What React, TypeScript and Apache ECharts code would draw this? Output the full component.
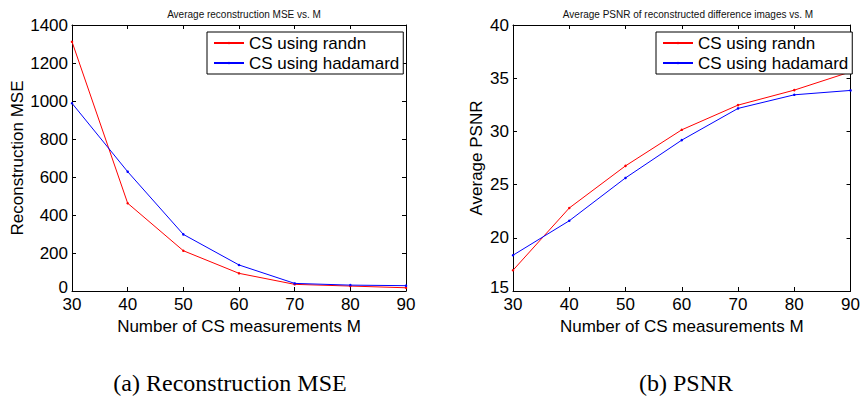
import React, { useEffect, useRef } from "react";
import * as echarts from "echarts";

const mValues = [30, 40, 50, 60, 70, 80, 90];
const mseRandn = [1312, 462, 212, 93, 35, 26, 17];
const mseHadamard = [988, 628, 298, 137, 40, 31, 28];
const psnrRandn = [16.95, 22.8, 26.76, 30.15, 32.47, 33.88, 35.6];
const psnrHadamard = [18.36, 21.6, 25.63, 29.18, 32.16, 33.44, 33.85];

const seriesNames = ["CS using randn", "CS using hadamard"];
const titles = ["Average reconstruction MSE vs. M", "Average PSNR of reconstructed difference images vs. M"];
const yNames = ["Reconstruction MSE", "Average PSNR"];
const xName = "Number of CS measurements M";
const captions = ["(a) Reconstruction MSE", "(b) PSNR"];

const SANS = "'Liberation Sans', Arial, Helvetica, sans-serif";
const SERIF = "'Liberation Serif', 'Times New Roman', serif";

const pairs = (xs: number[], ys: number[]) => xs.map((x, i) => [x, ys[i]]);

export default function App() {
  const ref = useRef<HTMLDivElement>(null);
  useEffect(() => {
    if (!ref.current) return;
    const chart = echarts.init(ref.current, undefined, { renderer: "svg" });

    const grids = [
      { left: 72, right: 457, top: 25, bottom: 110 },
      { left: 513, right: 9, top: 25, bottom: 110 },
    ];
    const yRanges = [
      { min: 0, max: 1400, interval: 200 },
      { min: 15, max: 40, interval: 5 },
    ];

    const axisLine = { show: true, onZero: false, lineStyle: { color: "#000", width: 1 } };
    const tick = { show: true, inside: true, length: 4, lineStyle: { color: "#000", width: 1 } };
    const label = { color: "#000", fontSize: 17, fontFamily: SANS };
    const nameStyle = { color: "#000", fontSize: 17, fontFamily: SANS };

    const xAxis: any[] = [];
    const yAxis: any[] = [];
    [0, 1].forEach((g) => {
      xAxis.push({
        type: "value", gridIndex: g, position: "bottom", min: 30, max: 90, interval: 10,
        axisLine, axisTick: tick, splitLine: { show: false },
        axisLabel: { ...label, lineHeight: 13, margin: 7 },
        name: xName, nameLocation: "middle", nameGap: 15,
        nameTextStyle: nameStyle,
      });
      xAxis.push({
        type: "value", gridIndex: g, position: "top", min: 30, max: 90, interval: 10,
        axisLine, axisTick: tick, splitLine: { show: false }, axisLabel: { show: false },
      });
      yAxis.push({
        type: "value", gridIndex: g, position: "left", ...yRanges[g],
        axisLine, axisTick: tick, splitLine: { show: false },
        axisLabel: {
          ...label, lineHeight: 12, margin: 4,
          formatter: (v: number) => (v === yRanges[g].min ? `{low|${v}}` : String(v)),
          rich: { low: { ...label, lineHeight: 12, padding: [0, 0, 8, 0] } },
        },
        name: yNames[g], nameLocation: "middle", nameGap: g === 0 ? 46 : 28,
        nameTextStyle: nameStyle,
      });
      yAxis.push({
        type: "value", gridIndex: g, position: "right", ...yRanges[g],
        axisLine, axisTick: tick, splitLine: { show: false }, axisLabel: { show: false },
      });
    });

    const mk = (name: string, color: string, data: number[][], g: number) => ({
      type: "line", name, data, xAxisIndex: g * 2, yAxisIndex: g * 2,
      symbol: "circle", symbolSize: 2.5, showSymbol: true,
      itemStyle: { color }, lineStyle: { color, width: 1 },
    });

    const legendBase = {
      orient: "vertical", top: 32, padding: [1, 4, 1, 6], itemGap: 0,
      itemWidth: 30, itemHeight: 3, borderColor: "#000", borderWidth: 1,
      backgroundColor: "#fff", selectedMode: false, borderRadius: 0,
      textStyle: { color: "#000", fontSize: 17, fontFamily: SANS, lineHeight: 20 },
      data: seriesNames,
    };

    chart.setOption({
      animation: false,
      backgroundColor: "#fff",
      title: [
        { text: titles[0], left: 239, top: 4, textAlign: "center", textStyle: { fontSize: 10, fontWeight: "normal", color: "#111", fontFamily: SANS } },
        { text: titles[1], left: 683, top: 4, textAlign: "center", textStyle: { fontSize: 10, fontWeight: "normal", color: "#111", fontFamily: SANS } },
      ],
      grid: grids,
      xAxis,
      yAxis,
      legend: [
        { ...legendBase, left: 207 },
        { ...legendBase, left: 656 },
      ],
      series: [
        mk(seriesNames[0], "#ff0000", pairs(mValues, mseRandn), 0),
        mk(seriesNames[1], "#0000ff", pairs(mValues, mseHadamard), 0),
        mk(seriesNames[0], "#ff0000", pairs(mValues, psnrRandn), 1),
        mk(seriesNames[1], "#0000ff", pairs(mValues, psnrHadamard), 1),
      ],
      graphic: [
        { type: "text", x: 230, y: 383, style: { text: captions[0], textAlign: "center", textVerticalAlign: "middle", fontSize: 24, fontFamily: SERIF, fill: "#000" } },
        { type: "text", x: 686, y: 383, style: { text: captions[1], textAlign: "center", textVerticalAlign: "middle", fontSize: 24, fontFamily: SERIF, fill: "#000" } },
      ],
    });
    return () => chart.dispose();
  }, []);
  return <div ref={ref} style={{ position: "fixed", left: 0, top: 0, width: 863, height: 401 }} />;
}
